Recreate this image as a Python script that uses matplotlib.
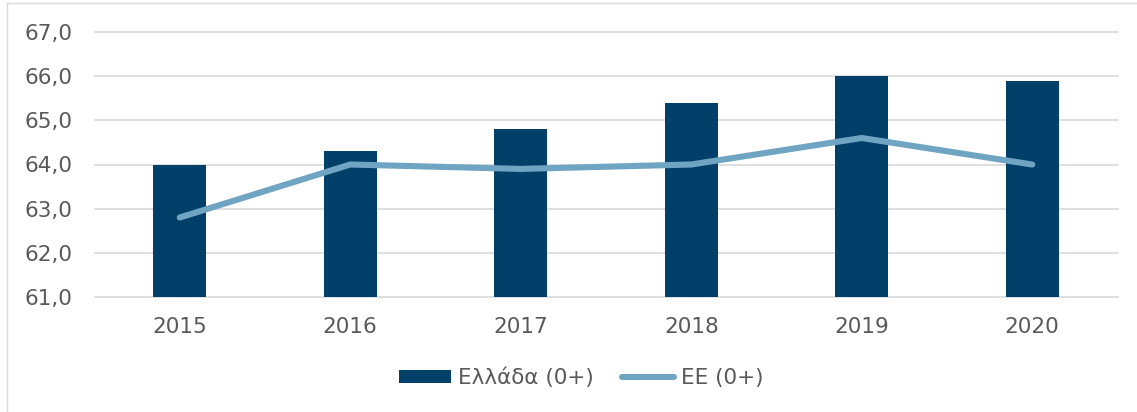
import matplotlib
matplotlib.use("Agg")
import matplotlib.pyplot as plt
from matplotlib.lines import Line2D

years = ["2015", "2016", "2017", "2018", "2019", "2020"]
greece = [64.0, 64.3, 64.8, 65.4, 66.0, 65.9]
eu = [62.8, 64.0, 63.9, 64.0, 64.6, 64.0]
y_ticks = [61, 62, 63, 64, 65, 66, 67]

bar_color = "#023F69"
line_color = "#6FA5C3"
text_color = "#595959"
grid_color = "#D9D9D9"

plt.rcParams["font.family"] = ["DejaVu Sans"]

W, H, DPI = 1137, 412, 100
fig = plt.figure(figsize=(W / DPI, H / DPI), dpi=DPI)

# plot area in pixel terms
left_px, right_px, top_px, bottom_px = 94.5, 1117.5, 32, 297
ax = fig.add_axes([left_px / W, 1 - bottom_px / H,
                   (right_px - left_px) / W, (bottom_px - top_px) / H])

x = list(range(len(years)))
bars = ax.bar(x, [g - y_ticks[0] for g in greece], bottom=y_ticks[0],
              width=0.31, color=bar_color, zorder=2, label="Ελλάδα (0+)")
line, = ax.plot(x, eu, color=line_color, lw=4.4, solid_capstyle="round",
                solid_joinstyle="round", zorder=3, label="ΕΕ (0+)")

ax.set_xlim(-0.5, len(years) - 0.5)
ax.set_ylim(y_ticks[0], y_ticks[-1])
ax.set_yticks(y_ticks)
ax.set_yticklabels([f"{v:.1f}".replace(".", ",") for v in y_ticks])
ax.set_xticks(x)
ax.set_xticklabels(years)

for v in y_ticks:
    ax.axhline(v, color=grid_color, lw=1.2, zorder=1, clip_on=False)

for s in ax.spines.values():
    s.set_visible(False)
ax.tick_params(axis="both", length=0, labelsize=15.5, colors=text_color)
ax.tick_params(axis="y", pad=16)
ax.tick_params(axis="x", pad=14.5)

leg = fig.legend(handles=[bars, line], labels=["Ελλάδα (0+)", "ΕΕ (0+)"],
                 loc="center", bbox_to_anchor=(581 / W, 1 - 378 / H), ncol=2,
                 frameon=False, fontsize=15.5, handlelength=2.45,
                 handleheight=0.55, handletextpad=0.3, columnspacing=1.3)
for t in leg.get_texts():
    t.set_color(text_color)

# chart frame (left and top edges visible)
fx, fy = 7 / W, 1 - 3 / H
fig.add_artist(Line2D([fx, fx], [0, fy], color=grid_color, lw=1.0,
                      transform=fig.transFigure))
fig.add_artist(Line2D([fx, 1], [fy, fy], color=grid_color, lw=1.0,
                      transform=fig.transFigure))

fig.savefig("out.png", dpi=DPI, facecolor="white")
